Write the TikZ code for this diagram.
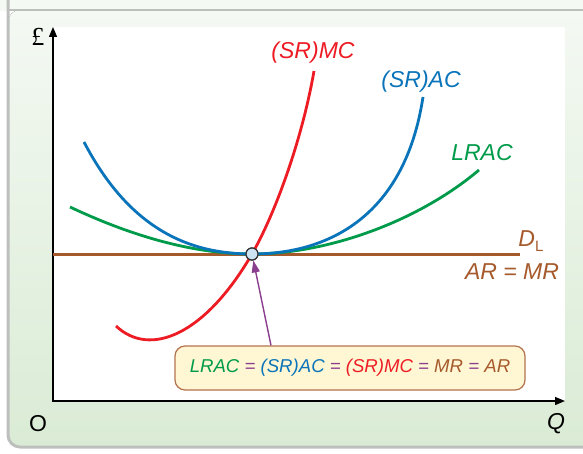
\documentclass[tikz,border=0pt]{standalone}
\usepackage{fontspec}
\setsansfont{Liberation Sans}
\newfontfamily\poundfont{Liberation Serif}
\usepackage{tikz}
\usetikzlibrary{arrows.meta,positioning}
\definecolor{srmc}{HTML}{ED1C24}
\definecolor{srac}{HTML}{0A74BA}
\definecolor{lrac}{HTML}{009B4A}
\definecolor{dem}{HTML}{A65A2C}
\definecolor{link}{HTML}{8B3D8E}
\definecolor{frame}{HTML}{BDBFBD}
\definecolor{pale}{HTML}{F4F9F3}
\definecolor{sage}{HTML}{DAEBD5}
\definecolor{cream}{HTML}{FFF7D4}
\tikzset{curve/.style={line width=1.4pt},
  lbl/.style={font=\sffamily\itshape\fontsize{11.5}{13}\selectfont,inner sep=0pt},
  axis/.style={line width=0.7pt,{Triangle[length=5pt,width=4pt]}-{Triangle[length=5pt,width=4pt]}},
  note/.style={draw=dem!85,line width=0.6pt,rounded corners=5pt,fill=cream,
    minimum width=175pt,minimum height=22pt,inner sep=0pt,
    font=\sffamily\itshape\fontsize{9.3}{11}\selectfont},
  dot/.style={circle,draw=black!80,fill=srac!20!white,line width=0.6pt,minimum size=6pt,inner sep=0pt},
  arrow/.style={-{Triangle[length=6pt,width=4pt]},line width=0.7pt,draw=link}}
\newcommand{\eqs}{\ \textcolor{link}{=}\ }

\begin{document}
\begin{tikzpicture}[x=0.5pt,y=-0.5pt]
\useasboundingbox (0,0) rectangle (583,454);
% panel
\fill[pale] (0,0) rectangle (583,11);
\fill[top color=pale,bottom color=sage,rounded corners=6pt] (8,10) -- (8,447) -- (590,447) -- (590,10) -- cycle;
\draw[frame,line width=1pt] (8,10) -- (583,10);
\draw[frame,line width=1.5pt,rounded corners=6pt] (8,0) -- (8,447) -- (590,447);
\fill[white] (53,27) rectangle (565,401);
% axes
\coordinate (ytop) at (53,27);
\coordinate (O) at (53,401);
\coordinate (xend) at (565,401);
\draw[axis] (ytop) |- (xend);
\node[inner sep=0pt,font=\poundfont\fontsize{13}{15}\selectfont] (pound) at (38,37) {£};
\node[lbl,font=\sffamily\fontsize{11.5}{13}\selectfont] (orig) at (38,424) {O};
\node[lbl] (qty) at (556,424) {Q};
% curves
\node[dot] (eq) at (252,254) {};
\draw[dem,curve,line width=1.5pt] (O |- eq) -- (520,254);
\draw[lrac,curve] (70,207) .. controls (140,240) and (200,254) .. (eq.center)
  .. controls (330,254) and (420,220) .. (479,170);
\draw[srac,curve] (84,142) .. controls (130,230) and (190,254) .. (eq.center)
  .. controls (330,254) and (405,215) .. (423,97);
\draw[srmc,curve] (116,326) .. controls (150,358) and (205,335) .. (eq.center)
  .. controls (275,214) and (302,140) .. (314,71);
\node[dot] at (eq) {};
% labels
\node[lbl,srmc] (mc) at (313,53) {(SR)MC};
\node[lbl,srac] (ac) at (421,82) {(SR)AC};
\node[lbl,lrac] (lr) at (482,153) {LRAC};
\node[lbl,dem,anchor=west] (dlab) at (518,241) {D\raisebox{-0.45ex}{\upshape\fontsize{7.5}{8}\selectfont L}};
\node[lbl,dem] (armr) at (512,272) {AR = MR};
% note
\node[note] (cond) at (350,368) {\textcolor{lrac}{LRAC}\eqs\textcolor{srac}{(SR)AC}\eqs\textcolor{srmc}{(SR)MC}\eqs\textcolor{dem}{MR}\eqs\textcolor{dem}{AR}};
\coordinate (tailx) at (271,0);
\draw[arrow] (cond.north -| tailx) -- (eq);
\end{tikzpicture}
\end{document}
